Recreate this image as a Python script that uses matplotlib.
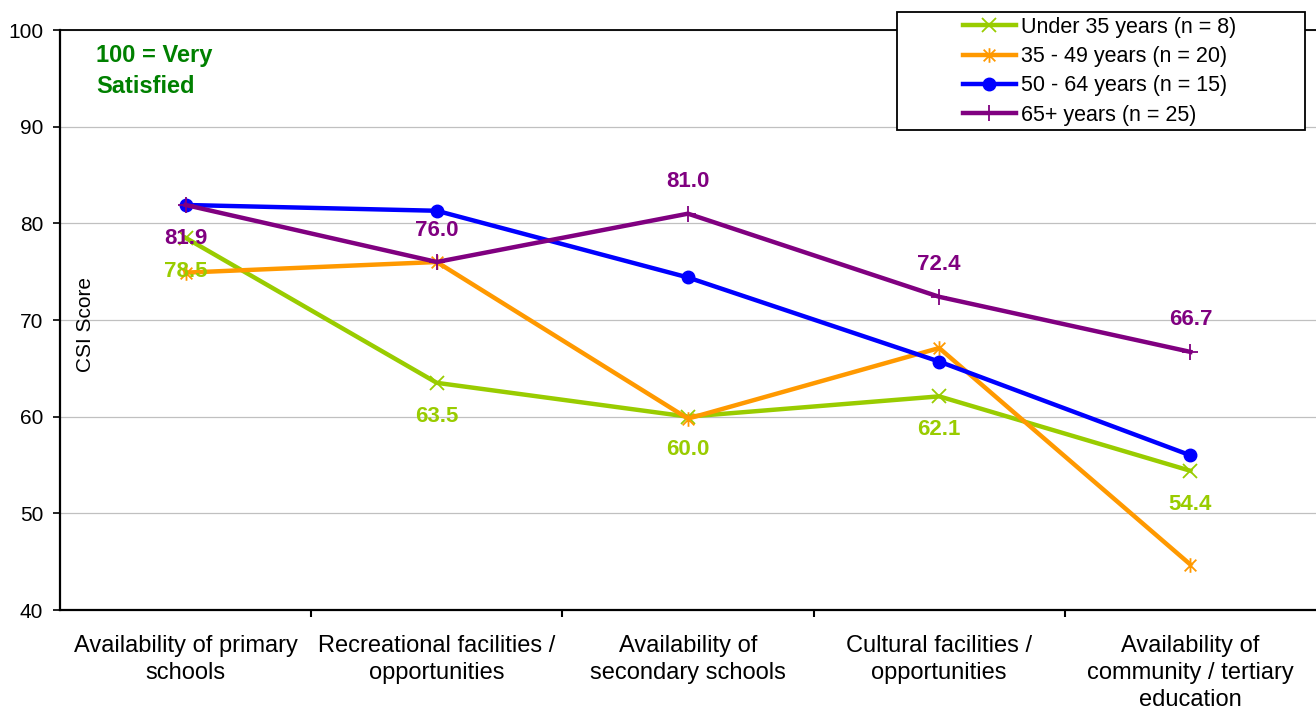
#!/usr/bin/env python3
"""CSI score by age group across education / recreation facility attributes."""

import matplotlib

matplotlib.use("Agg")
import matplotlib.pyplot as plt  # noqa: E402
from matplotlib.patches import Rectangle  # noqa: E402
from matplotlib.path import Path  # noqa: E402

plt.rcParams["font.family"] = ["Liberation Sans", "DejaVu Sans"]

CATEGORIES = [
    "Availability of primary\nschools",
    "Recreational facilities /\nopportunities",
    "Availability of\nsecondary schools",
    "Cultural facilities /\nopportunities",
    "Availability of\ncommunity / tertiary\neducation",
]
UNDER_35 = [78.5, 63.5, 60.0, 62.1, 54.4]
AGE_35_49 = [74.9, 76.0, 59.8, 67.1, 44.7]
AGE_50_64 = [81.9, 81.3, 74.4, 65.7, 56.0]
AGE_65_PLUS = [81.9, 76.0, 81.0, 72.4, 66.7]

SERIES_NAMES = [
    "Under 35 years (n = 8)",
    "35 - 49 years (n = 20)",
    "50 - 64 years (n = 15)",
    "65+ years (n = 25)",
]
Y_TICKS = [40, 50, 60, 70, 80, 90, 100]

GREEN = "#99CC00"
ORANGE = "#FF9900"
BLUE = "#0000FF"
PURPLE = "#800080"

# Excel style star: an x with a vertical bar through it
STAR = Path(
    [(-1, -1), (1, 1), (-1, 1), (1, -1), (0, -1.25), (0, 1.25)],
    [Path.MOVETO, Path.LINETO, Path.MOVETO, Path.LINETO, Path.MOVETO, Path.LINETO],
)


def main() -> int:
    W, H = 1316, 713
    fig = plt.figure(figsize=(W / 100, H / 100), dpi=100)
    ax = fig.add_axes((60 / W, 1 - 610 / H, (W - 60) / W, 580 / H))

    x = list(range(len(CATEGORIES)))
    lw = 3.2
    ax.plot(x, UNDER_35, color=GREEN, lw=lw, marker="x", ms=10.5, mew=1.3, label=SERIES_NAMES[0], zorder=3)
    ax.plot(x, AGE_35_49, color=ORANGE, lw=lw, marker=STAR, ms=10.5, mew=1.3, label=SERIES_NAMES[1], zorder=3)
    ax.plot(x, AGE_50_64, color=BLUE, lw=lw, marker="o", ms=9, label=SERIES_NAMES[2], zorder=3)
    ax.plot(x, AGE_65_PLUS, color=PURPLE, lw=lw, marker="+", ms=11, mew=1.3, label=SERIES_NAMES[3], zorder=4)

    # data labels: green below, purple above (first purple one below)
    for i, v in enumerate(UNDER_35):
        ax.annotate(f"{v:.1f}", (i, v), xytext=(0, -24), textcoords="offset points",
                    ha="center", va="center", fontsize=16, fontweight="bold", color=GREEN, zorder=6)
    for i, v in enumerate(AGE_65_PLUS):
        dy = -24 if i == 0 else 23
        ax.annotate(f"{v:.1f}", (i, v), xytext=(0, dy), textcoords="offset points",
                    ha="center", va="center", fontsize=16, fontweight="bold", color=PURPLE, zorder=6)

    ax.set_xlim(-0.5, len(CATEGORIES) - 0.5)
    ax.set_ylim(40, 100)
    ax.set_yticks(Y_TICKS)
    ax.set_yticklabels([str(t) for t in Y_TICKS], fontsize=15)
    ax.set_xticks(x)
    ax.set_xticklabels(CATEGORIES, fontsize=17, linespacing=1.3)
    ax.set_xticks([i + 0.5 for i in x[:-1]], minor=True)
    ax.tick_params(axis="x", which="major", length=0, pad=18)
    ax.tick_params(axis="x", which="minor", length=5, width=1.5, direction="out")
    ax.tick_params(axis="y", which="major", length=5, width=1.2, pad=7)

    ax.grid(axis="y", color="#C0C0C0", lw=0.9)
    ax.set_axisbelow(True)
    for side in ("left", "bottom"):
        ax.spines[side].set_linewidth(1.6)
    ax.spines["top"].set_linewidth(1.3)
    ax.spines["right"].set_visible(False)

    ax.text(-0.4, 69.5, "CSI Score", rotation=90, ha="center", va="center", fontsize=15)
    ax.text(-0.357, 98.6, "100 = Very\nSatisfied", ha="left", va="top", fontsize=17,
            fontweight="bold", color="#008000", linespacing=1.45)

    # legend box drawn separately so it can have wide side padding like the original
    fig.patches.append(Rectangle((897 / W, 1 - 130 / H), 408 / W, 118 / H, transform=fig.transFigure,
                                 facecolor="white", edgecolor="black", lw=1.3, zorder=5))
    leg = fig.legend(loc="upper left", bbox_to_anchor=(963 / W, 1 - 17 / H), frameon=False,
                     fontsize=15.5, handlelength=2.45, handletextpad=0.25, labelspacing=0.38,
                     borderpad=0, borderaxespad=0)
    leg.set_zorder(6)

    fig.savefig("out.png", dpi=100)
    plt.close(fig)
    return 0


if __name__ == "__main__":
    raise SystemExit(main())
